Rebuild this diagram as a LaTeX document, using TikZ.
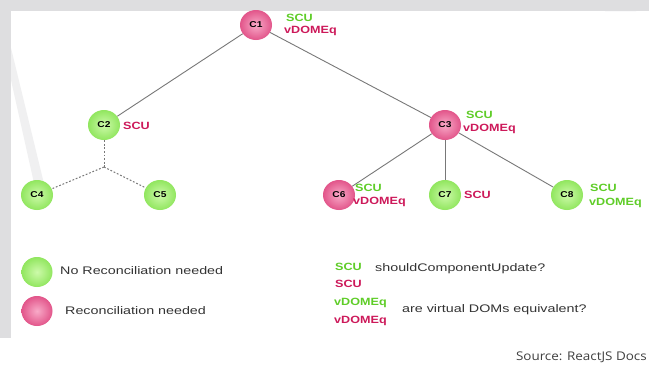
\documentclass[tikz,border=0pt]{standalone}
\usepackage{fontspec}
\setmainfont{Liberation Sans}
\newfontfamily\labfont[FakeStretch=1.2]{Liberation Sans}
\newfontfamily\txtfont[FakeStretch=1.3]{Liberation Sans}
\newfontfamily\srcfont[FakeStretch=1.12]{Open Sans}
\usetikzlibrary{shapes.geometric,backgrounds}
\definecolor{gfill}{RGB}{145,230,95}
\definecolor{gin}{RGB}{205,250,170}
\definecolor{pfill}{RGB}{226,85,138}
\definecolor{pin}{RGB}{248,170,200}
\definecolor{gtext}{RGB}{95,205,40}
\definecolor{ptext}{RGB}{205,25,90}
\definecolor{edgegray}{RGB}{120,120,120}
\definecolor{bggray}{RGB}{222,222,224}
\tikzset{
  comp/.style={ellipse, minimum width=32pt, minimum height=30pt, inner sep=0pt,
    font=\labfont\fontsize{8.5}{8.5}\selectfont\bfseries, text=black},
  gnode/.style={comp, shading=radial, inner color=gin, outer color=gfill},
  pnode/.style={comp, shading=radial, inner color=pin, outer color=pfill},
  lab/.style={anchor=west, inner sep=0pt, font=\labfont\fontsize{10.5}{10.5}\selectfont\bfseries},
  glab/.style={lab, text=gtext},
  plab/.style={lab, text=ptext},
  txt/.style={anchor=west, inner sep=0pt, font=\txtfont\fontsize{11}{11}\selectfont, text=black!80},
  link/.style={draw=edgegray, line width=0.9pt},
  dlink/.style={draw=edgegray, line width=1pt, dash pattern=on 1.8pt off 1.8pt},
}
\begin{document}
\begin{tikzpicture}[x=1pt,y=-1pt]
\useasboundingbox (0,0) rectangle (649,367);
% nodes
\node[pnode] (c1) at (256,25) {C1};
\node[gnode] (c2) at (104,125) {C2};
\node[pnode] (c3) at (445,125) {C3};
\node[gnode] (c4) at (37,195) {C4};
\node[gnode] (c5) at (160,195) {C5};
\node[pnode] (c6) at (339,195) {C6};
\node[gnode] (c7) at (445,195) {C7};
\node[gnode] (c8) at (567,195) {C8};
\coordinate (j) at (104,167);
\begin{scope}[on background layer]
% background
\fill[white] (0,0) rectangle (649,367);
\fill[bggray!45] (11,48) -- (11,80) -- (36,192) -- (46,192) -- cycle;
\fill[bggray] (0,0) rectangle (649,11);
\fill[bggray] (0,0) rectangle (11,338);
\fill[bggray] (605,11) -- (636,11) -- (649,0) -- (612,0) -- cycle;
% connectors
\draw[link] (c1) -- (c2);
\draw[link] (c1) -- (c3);
\draw[link] (c3) -- (c6);
\draw[link] (c3) -- (c7);
\draw[link] (c3) -- (c8);
\draw[dlink] (c2) -- (j);
\draw[dlink] (j) -- (c4);
\draw[dlink] (j) -- (c5);
\end{scope}
% node labels
\node[glab] (l1a) at (286,18) {SCU};
\node[plab] (l1b) at (284,31) {vDOMEq};
\node[plab] (l2a) at (123,126) {SCU};
\node[glab] (l3a) at (466,115) {SCU};
\node[plab] (l3b) at (463,129) {vDOMEq};
\node[glab] (l6a) at (355,188) {SCU};
\node[plab] (l6b) at (353,202) {vDOMEq};
\node[plab] (l7a) at (464,195) {SCU};
\node[glab] (l8a) at (590,188) {SCU};
\node[glab] (l8b) at (589,203) {vDOMEq};
% legend
\node[gnode, minimum width=31pt, minimum height=30pt] (lg) at (37,272) {};
\node[pnode, minimum width=31pt, minimum height=30pt] (lp) at (37,311) {};
\node[txt] (tg) at (60,271) {No Reconciliation needed};
\node[txt] (tp) at (65,311) {Reconciliation needed};
\node[glab] (k1) at (335,267) {SCU};
\node[plab] (k2) at (335,284) {SCU};
\node[txt] (k3) at (375,269) {shouldComponentUpdate?};
\node[glab] (k4) at (334,303) {vDOMEq};
\node[plab] (k5) at (334,321) {vDOMEq};
\node[txt] (k6) at (402,310) {are virtual DOMs equivalent?};
\node[anchor=east, inner sep=0pt, font=\srcfont\fontsize{12}{12}\selectfont, text=black!75] (src) at (647,357) {Source: ReactJS Docs};
\end{tikzpicture}
\end{document}
